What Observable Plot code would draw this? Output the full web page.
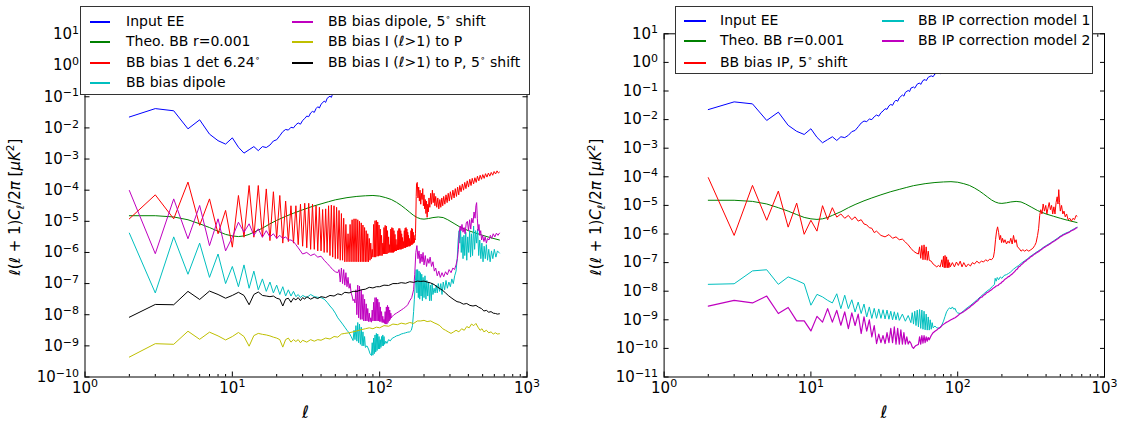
<!DOCTYPE html>
<html><head><meta charset="utf-8">
<script src="https://cdn.jsdelivr.net/npm/d3@7"></script>
<script src="https://cdn.jsdelivr.net/npm/@observablehq/plot@0.6"></script>
<style>
body{margin:0;background:#fff;}
#wrap{position:relative;width:1121px;height:424px;overflow:hidden;font-family:"DejaVu Sans",sans-serif;background:#fff;}
.panel{position:absolute;top:0;}
.legend{position:absolute;background:#fff;border:1px solid #333;box-sizing:border-box;color:#000;font-size:14px;}
.item{position:absolute;white-space:nowrap;height:18px;line-height:18px;}
.sw{position:absolute;height:1.5px;}
.legend i{font-style:italic;}
.legend sup{font-size:9px;vertical-align:6px;line-height:0;}
</style></head><body><div id="wrap"></div>
<script>
// ---------------- axis ticks ----------------
const xMajor = [1, 10, 100, 1000];
const xMinor = [2,3,4,5,6,7,8,9,20,30,40,50,60,70,80,90,200,300,400,500,600,700,800,900];
const yExpLeft = [-10,-9,-8,-7,-6,-5,-4,-3,-2,-1,0,1];
const yExpRight = [-11,-10,-9,-8,-7,-6,-5,-4,-3,-2,-1,0,1];

// ---------------- data: log10 of l(l+1)C_l/2pi [muK^2] ----------------
// "Run" arrays hold consecutive multipoles starting at l = 2; "Pts" arrays hold [l, log10 value].
const eeRun = [-1.65,-1.38,-1.45,-2.03,-1.74,-2.2,-2.41,-2.52,-2.32,-2.62,-2.81,-2.7,-2.6,-2.73,-2.6,-2.63,-2.55,-2.42,-2.38,-2.25,-2.12,-2.05,-2.07,-1.98,-2.0,-1.9,-1.84,-1.88,-1.76,-1.7,-1.62,-1.64,-1.52,-1.47,-1.5,-1.38,-1.32,-1.36,-1.24];
const eePts = [[42,-1.14],[43,-1.18],[44,-1.05],[46,-0.98],[47,-1.02],[48,-0.9],[50,-0.86],[51,-0.9],[53,-0.76],[55,-0.72],[56,-0.77],[58,-0.63],[60,-0.6],[61,-0.64],[63,-0.52],[66,-0.47],[68,-0.5],[70,-0.4],[74,-0.36],[76,-0.4],[80,-0.28],[85,-0.22],[90,-0.15],[100,-0.05],[120,0.1]];

const theoPts = [[2,-4.82],[3,-4.82],[4,-4.86],[5,-4.95],[6,-5.08],[7,-5.2],[8,-5.32],[9,-5.42],[10,-5.47],[11,-5.49],[12,-5.47],[13,-5.42],[14,-5.35],[16,-5.22],[18,-5.08],[20,-4.97],[23,-4.84],[26,-4.74],[30,-4.63],[35,-4.52],[40,-4.44],[45,-4.37],[50,-4.31],[60,-4.24],[70,-4.2],[80,-4.18],[90,-4.17],[100,-4.19],[110,-4.24],[120,-4.3],[130,-4.39],[140,-4.49],[150,-4.6],[160,-4.71],[170,-4.81],[180,-4.88],[190,-4.92],[200,-4.93],[215,-4.91],[230,-4.88],[250,-4.86],[270,-4.88],[290,-4.95],[320,-5.07],[350,-5.18],[400,-5.3],[450,-5.38],[500,-5.45],[560,-5.52],[650,-5.6]];

// left panel
const redLRun = [
 -4.92,-4.15,-4.92,-3.74,-5.13,-4.28,-5.4,-4.65,-5.83,-4.17,-5.51,-3.85,-5.51,-3.85,-5.51,-3.96,-5.62,-4.05,-5.55,-4.17,-5.7,-4.35,
 -5.65,-4.5,-5.7,-4.5,-5.75,-4.45,-5.8,-4.42,-5.85,-4.42,-5.9,-4.45,-5.9,-4.5,-5.95,-4.55,-5.95,-4.62,-6.0,
 -4.6,-6.0,-4.5,-6.1,-4.48,-6.15,-4.5,-6.2,-4.55,-6.2,-4.65,-6.25,-4.75,-6.25,-4.9,-6.3,-5.1,-6.3,-5.4,-6.3,
 -5.1,-6.3,-4.95,-6.3,-4.92,-6.3,-4.92,-6.3,-4.95,-6.3,-5.0,-6.3,-5.05,-6.3,-5.12,-6.3,-5.2,-6.3,-5.3,-6.3,-5.4,-6.3,-5.55,-6.25,-5.7,-6.2,-5.9,
 -6.15,-5.1,-6.15,-4.98,-6.15,-4.97,-6.12,-5.02,-6.12,-5.12,-6.1,-5.25,-6.1,-5.45,-6.1,-5.7,
 -6.05,-5.2,-6.05,-5.13,-6.05,-5.15,-6.05,-5.3,-6.02,-5.5,-6.0,-5.75,
 -6.0,-5.25,-6.0,-5.2,-6.0,-5.22,-6.0,-5.3,-5.97,-5.42,-5.95,-5.58,-5.95,-5.75,
 -5.92,-5.3,-5.92,-5.23,-5.9,-5.23,-5.9,-5.3,-5.9,-5.4,-5.88,-5.52,-5.88,-5.65,-5.85,
 -5.3,-5.85,-5.22,-5.85,-5.2,-5.82,-5.25,-5.82,-5.35,-5.8,-5.45,-5.8,-5.55,-5.8,-5.65,
 -5.78,-5.3,-5.75,-5.22,-5.75,-5.25,-5.72,-5.35,-5.7,-5.45,-5.68,-5.55,-5.6,-5.4,-4.9,-4.2,-3.8];
const redLPts = [[180,-3.75],[182,-4.25],[184,-3.9],[186,-4.35],[188,-4.0],[190,-4.45],[192,-4.1],[194,-4.3],[196,-3.95],[198,-4.5],[200,-4.15],[202,-4.6],[204,-4.3],[206,-4.75],[208,-4.35],[210,-4.87],[212,-4.45],[214,-4.7],[216,-4.25],[219,-4.55],[222,-4.1],[225,-4.45],[228,-4.0],[231,-4.4],[234,-4.1],[237,-4.5],[240,-4.2],[244,-4.55],[248,-4.25],[252,-4.6],[256,-4.3],[260,-4.55],[264,-4.25],[268,-4.5],[272,-4.2],[277,-4.45],[282,-4.15],[287,-4.4],[292,-4.1],[297,-4.35],[302,-4.05],[308,-4.3],[314,-4.0],[320,-4.25],[326,-3.95],[332,-4.2],[338,-3.9],[344,-4.15],[350,-3.85],[357,-4.05],[364,-3.8],[371,-4.0],[378,-3.75],[385,-3.95],[393,-3.7],[401,-3.9],[409,-3.65],[417,-3.85],[425,-3.62],[434,-3.8],[443,-3.6],[452,-3.75],[461,-3.55],[471,-3.7],[481,-3.52],[491,-3.65],[501,-3.5],[512,-3.62],[523,-3.47],[535,-3.58],[547,-3.45],[559,-3.55],[572,-3.43],[585,-3.52],[598,-3.4],[612,-3.48],[626,-3.38],[640,-3.45],[650,-3.42]];

const cyanLRun = [-5.38,-7.3,-5.5,-6.7,-5.7,-6.8,-6.05,-7.0,-6.45,-7.1,-6.4,-7.15,-6.6,-7.2,-6.85,-7.25,-6.95,-7.3,-7.05,-7.35,-7.1,-7.4,-7.2,-7.4,-7.25,-7.42];
const cyanLPts = [[28,-7.35],[29,-7.45],[30,-7.38],[32,-7.45],[34,-7.35],[36,-7.42],[38,-7.44],[40,-7.45],[42,-7.5],[44,-7.6],[46,-7.72],[48,-7.82],[50,-7.95],[52,-8.1],[54,-8.2],[56,-8.3],[58,-8.4],[60,-8.5],[62,-8.58],[64,-8.7],[66,-8.83],
 [67,-8.5],[68,-8.8],[69,-8.35],[70,-8.85],[71,-8.25],[72,-8.9],[73,-8.3],[74,-8.95],[75,-8.4],[76,-9.0],[77,-8.55],[78,-9.0],[79,-8.7],[80,-9.05],[82,-9.0],[84,-9.1],[86,-9.25],[88,-9.31],
 [89,-8.9],[90,-9.3],[91,-8.75],[92,-9.25],[93,-8.65],[94,-9.2],[95,-8.6],[96,-9.15],[97,-8.62],[98,-9.1],[99,-8.7],[100,-9.1],[101,-8.8],[102,-9.05],[103,-8.7],[104,-9.0],[105,-8.65],[106,-9.0],[107,-8.7],[108,-8.95],[110,-8.85],[112,-8.92],[115,-8.8],[118,-8.84],[122,-8.75],[126,-8.72],[130,-8.68],[135,-8.66],[140,-8.62],[145,-8.6],[150,-8.58],[155,-8.56],[160,-8.55],[164,-8.5],[167,-8.35],[170,-7.9],[172,-7.5],[175,-6.9],[177,-6.55],
 [179,-7.3],[181,-6.55],[183,-7.45],[185,-6.6],[187,-7.5],[189,-6.65],[191,-7.4],[193,-6.7],[195,-7.55],[197,-6.8],[200,-7.45],[203,-6.75],[206,-7.5],[209,-6.9],[212,-7.4],[215,-6.95],[218,-7.55],[221,-7.05],[224,-7.55],[227,-7.0],[230,-7.35],[234,-7.15],[238,-7.3],[242,-7.05],[246,-7.3],[250,-7.0],[255,-7.25],[260,-7.0],[265,-7.35],[270,-6.95],[276,-7.2],[282,-6.9],[288,-7.15],[295,-6.95],[302,-7.1],[309,-6.85],[316,-7.0],[323,-6.75],[330,-6.6],[336,-6.2],[341,-5.6],[346,-5.3],[350,-5.7],[354,-5.25],[358,-6.0],[363,-5.5],[368,-6.2],[373,-5.45],[378,-6.1],[384,-5.35],[390,-6.25],[396,-5.5],[402,-6.0],[408,-5.3],[414,-6.15],[420,-5.4],[427,-6.1],[434,-5.15],[441,-5.9],[448,-5.3],[455,-5.7],[462,-5.25],[470,-6.1],[478,-5.6],[486,-6.2],[494,-5.7],[503,-6.3],[512,-5.8],[521,-6.2],[530,-5.75],[540,-6.25],[550,-5.9],[562,-6.3],[574,-5.95],[586,-6.2],[600,-5.9],[615,-6.15],[630,-5.95],[650,-6.02]];

const magLRun = [-4.01,-6.04,-4.28,-5.56,-4.49,-5.78,-4.92,-5.95,-5.51,-5.03,-5.35,-5.08,-5.45,-5.24,-5.51,-5.3,-5.5,-5.4,-5.55,-5.45,-5.55,-5.5,-5.6,-5.6,-5.65,-5.75];
const magLPts = [[28,-5.85],[30,-6.05],[32,-6.0],[34,-6.1],[36,-6.05],[38,-6.15],[40,-6.12],[42,-6.25],[44,-6.35],[46,-6.45],[48,-6.55],[50,-6.62],[52,-6.65],
 [53,-6.55],[54,-6.95],[55,-6.5],[56,-7.0],[57,-6.55],[58,-7.05],[59,-6.65],[60,-7.1],[61,-6.8],[62,-7.15],[63,-7.0],[64,-7.3],[65,-7.4],[66,-7.55],[67,-7.5],[68,-7.62],
 [69,-7.2],[70,-8.0],[71,-7.05],[72,-8.1],[73,-7.08],[74,-8.15],[75,-7.2],[76,-8.15],[77,-7.35],[78,-8.2],[79,-7.5],[80,-8.2],[81,-7.65],[82,-8.2],[83,-7.8],[84,-8.22],[85,-7.95],[86,-8.22],[87,-8.1],[88,-8.24],
 [89,-7.85],[90,-8.2],[91,-7.6],[92,-8.2],[93,-7.45],[94,-8.2],[95,-7.45],[96,-8.2],[97,-7.5],[98,-8.2],[99,-7.6],[100,-8.22],[101,-7.75],[102,-8.22],[103,-7.9],[104,-8.25],[105,-8.05],[106,-8.25],[107,-8.15],[108,-8.28],
 [109,-7.9],[110,-8.3],[111,-7.75],[112,-8.3],[113,-7.7],[114,-8.25],[115,-7.75],[116,-8.2],[117,-7.85],[118,-8.15],[119,-7.95],[120,-8.1],[122,-8.05],[125,-8.0],[130,-7.95],[135,-7.9],[140,-7.85],[145,-7.8],[150,-7.75],[155,-7.68],[160,-7.55],[165,-7.45],[170,-7.2],[173,-6.7],[176,-6.0],[179,-5.78],
 [182,-6.2],[185,-5.95],[188,-6.35],[191,-6.05],[194,-6.3],[197,-6.0],[200,-6.4],[204,-6.1],[208,-6.45],[212,-6.2],[216,-6.35],[220,-6.15],[225,-6.45],[230,-6.3],[235,-6.6],[240,-6.5],[246,-6.75],[252,-6.6],[258,-6.8],[265,-6.65],[272,-6.78],[280,-6.62],[288,-6.72],[296,-6.55],[305,-6.65],[314,-6.5],[322,-6.55],[330,-6.4],[337,-6.2],[342,-5.9],[347,-5.35],[352,-5.15],[357,-5.3],[362,-5.1],[368,-5.35],[374,-5.2],[380,-5.4],[387,-5.05],[394,-5.0],[401,-5.3],[408,-4.95],[415,-5.25],[422,-4.9],[430,-5.05],[437,-4.7],[444,-4.9],[450,-4.5],[455,-4.4],[460,-4.9],[466,-5.3],[472,-5.1],[478,-5.45],[485,-5.3],[492,-5.6],[500,-5.45],[510,-5.65],[520,-5.5],[530,-5.7],[540,-5.55],[552,-5.6],[564,-5.45],[576,-5.55],[590,-5.4],[605,-5.5],[620,-5.38],[635,-5.45],[650,-5.38]];

const yelLRun = [-9.36,-8.93,-8.95,-8.53,-8.79,-8.56,-8.68,-8.81,-8.7,-8.57,-8.7,-9.01,-8.67,-8.6,-8.63,-8.65,-8.68,-8.72,-8.75,-8.8,-9.04,-8.8,-8.75,-8.88,-8.8,-8.86];
const yelLPts = [[28,-8.8],[29,-8.9],[30,-8.82],[32,-8.88],[34,-8.8],[36,-8.85],[38,-8.8],[40,-8.82],[43,-8.75],[46,-8.78],[49,-8.7],[52,-8.72],[55,-8.62],[58,-8.6],[62,-8.58],[66,-8.55],[70,-8.52],[75,-8.48],[80,-8.45],[85,-8.42],[90,-8.45],[95,-8.4],[100,-8.42],[107,-8.35],[115,-8.37],[123,-8.3],[132,-8.32],[140,-8.27],[150,-8.3],[160,-8.25],[170,-8.28],[180,-8.2],[190,-8.2],[200,-8.18],[210,-8.22],[222,-8.2],[234,-8.26],[245,-8.3],[256,-8.35],[268,-8.45],[280,-8.5],[292,-8.55],[305,-8.6],[318,-8.55],[330,-8.5],[345,-8.55],[360,-8.45],[375,-8.5],[390,-8.38],[405,-8.42],[420,-8.3],[435,-8.35],[450,-8.28],[465,-8.4],[480,-8.5],[495,-8.45],[510,-8.55],[530,-8.5],[550,-8.58],[570,-8.55],[590,-8.62],[610,-8.58],[630,-8.62],[650,-8.61]];

const blkLRun = [-8.08,-7.67,-7.68,-7.25,-7.51,-7.24,-7.35,-7.47,-7.38,-7.28,-7.38,-7.68,-7.35,-7.27,-7.38,-7.4,-7.42,-7.4,-7.47,-7.5,-7.72,-7.5,-7.47,-7.6,-7.47,-7.52];
const blkLPts = [[28,-7.45],[29,-7.55],[30,-7.45],[31,-7.5],[32,-7.42],[34,-7.5],[36,-7.44],[38,-7.48],[40,-7.42],[43,-7.45],[46,-7.38],[49,-7.4],[52,-7.33],[55,-7.36],[58,-7.28],[62,-7.3],[66,-7.25],[70,-7.25],[75,-7.2],[80,-7.18],[85,-7.12],[90,-7.14],[95,-7.1],[100,-7.1],[107,-7.05],[115,-7.06],[123,-7.0],[132,-7.0],[140,-6.97],[150,-6.99],[160,-6.94],[170,-6.96],[180,-6.92],[190,-6.93],[200,-6.92],[210,-6.95],[222,-6.98],[234,-7.03],[245,-7.1],[256,-7.16],[268,-7.22],[280,-7.3],[292,-7.38],[305,-7.45],[320,-7.52],[335,-7.58],[350,-7.6],[370,-7.66],[390,-7.64],[410,-7.7],[430,-7.72],[450,-7.7],[470,-7.76],[490,-7.8],[510,-7.88],[530,-7.86],[550,-7.92],[570,-7.9],[590,-7.95],[610,-7.96],[630,-7.98],[650,-7.97]];

// right panel
const redRRun = [-4.03,-6.05,-4.3,-5.52,-4.5,-5.76,-4.92,-6.01,-5.52,-5.9,-5.01,-5.5,-5.08,-5.41,-5.3,-5.45,-5.35,-5.5,-5.4,-5.55,-5.5,-5.65,-5.68,-5.78,-5.8,-5.95];
const redRPts = [[28,-5.9],[30,-6.05],[32,-6.1],[34,-6.02],[36,-6.15],[38,-6.1],[40,-6.2],[42,-6.18],[44,-6.28],[46,-6.38],[48,-6.5],[50,-6.6],[52,-6.66],[54,-6.7],
 [55,-6.45],[56,-6.85],[57,-6.4],[58,-6.9],[59,-6.38],[60,-6.9],[61,-6.45],[62,-6.92],[63,-6.6],[64,-6.92],[66,-6.95],[68,-7.05],[70,-7.1],[72,-7.15],[74,-7.1],[76,-7.15],
 [78,-6.9],[79,-7.15],[80,-6.78],[81,-7.18],[82,-6.75],[83,-7.18],[84,-6.8],[85,-7.18],[86,-6.9],[87,-7.18],[88,-7.0],[89,-7.15],
 [92,-7.0],[95,-7.15],[98,-6.98],[101,-7.1],[104,-6.95],[107,-7.15],[110,-7.0],[114,-7.15],[118,-7.05],[122,-7.12],[126,-7.0],[130,-7.05],[135,-6.95],[140,-7.02],[145,-6.95],[150,-6.98],[155,-6.9],[160,-6.95],[165,-6.88],[170,-6.9],[175,-6.82],[178,-6.6],[181,-6.2],[184,-5.9],[187,-5.75],[190,-5.95],[193,-6.2],[196,-6.05],[199,-6.3],[202,-6.15],[206,-6.3],[210,-6.2],[215,-6.35],[220,-6.25],[225,-6.32],[230,-6.15],[235,-6.35],[240,-6.05],[245,-6.3],[250,-6.2],[255,-6.45],[262,-6.5],[270,-6.6],[278,-6.55],[286,-6.6],[295,-6.55],[305,-6.6],[315,-6.55],[325,-6.5],[335,-6.4],[342,-6.3],[350,-6.05],[356,-5.8],[362,-5.35],[368,-5.15],[375,-5.3],[382,-4.95],[390,-5.2],[398,-5.0],[405,-5.3],[412,-5.1],[420,-4.9],[428,-5.15],[436,-5.0],[444,-5.3],[452,-5.05],[460,-5.3],[468,-4.9],[476,-4.7],[482,-4.95],[488,-4.45],[494,-4.9],[500,-5.2],[510,-5.0],[520,-5.3],[530,-5.2],[540,-5.4],[552,-5.3],[565,-5.5],[580,-5.45],[595,-5.55],[610,-5.45],[625,-5.5],[640,-5.35],[650,-5.38]];

const cyanRRun = [-7.76,-7.74,-7.29,-7.25,-7.76,-7.5,-7.62,-7.74,-8.49,-8.11,-8.2,-8.32,-8.41,-8.09,-8.61,-8.14,-8.61,-8.3,-8.73,-8.38,-8.78,-8.45,-8.9,-8.55,-8.95,-8.6];
const cyanRPts = [[28,-8.95],[29,-8.62],[30,-8.95],[31,-8.65],[32,-8.97],[33,-8.66],[34,-8.98],[35,-8.7],[36,-9.0],[37,-8.72],[38,-9.0],[39,-8.75],[40,-9.02],[42,-8.8],[44,-9.05],[46,-8.85],[48,-9.1],
 [49,-8.75],[50,-9.15],[51,-8.7],[52,-9.2],[53,-8.66],[54,-9.25],[55,-8.64],[56,-9.3],[57,-8.66],[58,-9.33],[59,-8.7],[60,-9.35],[61,-8.8],[62,-9.36],[63,-8.9],[64,-9.36],[65,-9.0],[66,-9.33],[67,-9.1],[68,-9.28],[70,-9.22],[72,-9.28],[75,-9.3],[78,-9.18],[80,-9.05],[82,-8.88],[84,-8.72],[86,-8.64],[88,-8.58],[90,-8.62],[92,-8.55],[94,-8.63],[96,-8.6],[98,-8.72],[100,-8.76],[104,-8.78],[110,-8.68],[116,-8.58],[122,-8.5],[130,-8.38],[137,-8.28],[143,-8.19],[150,-8.1],[158,-8.0],[165,-7.93],[172,-7.84],[178,-7.76],[180,-7.55],[183,-7.65],[186,-7.52],[190,-7.6],[195,-7.5],[200,-7.55],[207,-7.45],[215,-7.42],[222,-7.38],[229,-7.33],[240,-7.23],[250,-7.16],[260,-7.1],[270,-7.03],[285,-6.94],[300,-6.86],[313,-6.78],[330,-6.7],[345,-6.63],[365,-6.55],[385,-6.46],[405,-6.39],[427,-6.32],[450,-6.24],[475,-6.16],[498,-6.08],[525,-6.01],[550,-5.96],[575,-5.92],[600,-5.86],[625,-5.81],[650,-5.76]];

const magRRun = [-8.52,-8.32,-8.41,-8.17,-8.78,-8.57,-9.04,-9.04,-9.39,-8.88,-9.08,-8.61,-9.08,-8.67,-9.19,-8.72,-9.31,-8.76,-9.2,-8.8,-9.48,-8.9,-9.4,-9.0,-9.6,-9.2];
const magRPts = [[28,-9.83],[29,-9.5],[30,-9.8],[31,-9.55],[32,-9.83],[33,-9.45],[34,-9.8],[35,-9.3],[36,-9.8],[37,-9.25],[38,-9.85],[39,-9.3],[40,-9.85],[41,-9.35],[42,-9.85],[43,-9.45],[44,-9.85],[45,-9.6],[46,-9.85],[47,-9.75],[48,-9.82],[49,-9.95],[50,-10.0],[51,-9.94],[52,-9.9],[53,-9.88],[54,-9.86],
 [55,-9.6],[56,-9.85],[57,-9.55],[58,-9.82],[59,-9.55],[60,-9.8],[61,-9.6],[62,-9.75],[63,-9.62],[64,-9.7],[66,-9.55],[68,-9.45],[70,-9.4],[72,-9.36],[74,-9.3],[76,-9.27],[78,-9.2],[80,-9.16],[83,-9.1],[86,-9.06],[90,-9.0],[93,-8.96],[96,-8.93],[100,-8.86],[103,-8.8],[106,-8.76],[109,-8.73],[112,-8.68],[115,-8.64],[118,-8.6],[121,-8.56],[124,-8.5],[127,-8.47],[130,-8.42],[134,-8.36],[137,-8.33],[140,-8.27],[143,-8.22],[147,-8.2],[150,-8.14],[154,-8.11],[158,-8.05],[162,-8.03],[166,-7.98],[170,-7.95],[174,-7.9],[178,-7.87],[183,-7.82],[188,-7.8],[192,-7.75],[196,-7.73],[200,-7.68],[205,-7.64],[210,-7.58],[215,-7.55],[220,-7.5],[225,-7.48],[229,-7.44],[235,-7.4],[240,-7.35],[245,-7.31],[250,-7.25],[255,-7.22],[260,-7.15],[265,-7.13],[270,-7.08],[278,-7.03],[285,-6.97],[292,-6.94],[300,-6.88],[307,-6.85],[313,-6.8],[322,-6.77],[330,-6.72],[338,-6.69],[345,-6.65],[355,-6.62],[365,-6.57],[375,-6.53],[385,-6.48],[395,-6.45],[405,-6.41],[416,-6.38],[427,-6.34],[438,-6.3],[450,-6.26],[462,-6.23],[475,-6.18],[486,-6.15],[498,-6.1],[512,-6.07],[525,-6.03],[538,-6.01],[550,-5.98],[562,-5.96],[575,-5.94],[588,-5.9],[600,-5.88],[612,-5.86],[625,-5.83],[638,-5.8],[650,-5.78]];

// legend labels and colours
const legendLeftNames = ["Input EE","Theo. BB r=0.001","BB bias 1 det 6.24<sup>∘</sup>","BB bias dipole","BB bias dipole, 5<sup>∘</sup> shift","BB bias I (<i>ℓ</i>&gt;1) to P","BB bias I (<i>ℓ</i>&gt;1) to P, 5<sup>∘</sup> shift"];
const legendLeftColors = ["#0000ff","#008000","#ff0000","#00bfbf","#bf00bf","#bfbf00","#000000"];
const legendRightNames = ["Input EE","Theo. BB r=0.001","BB bias IP, 5<sup>∘</sup> shift","BB IP correction model 1","BB IP correction model 2"];
const legendRightColors = ["#0000ff","#008000","#ff0000","#00bfbf","#bf00bf"];

// ---------------- build ----------------
function rows(run, pts) {
  const out = run.map((g, i) => ({ell: 2 + i, val: 10 ** g}));
  for (const [ell, g] of pts) out.push({ell, val: 10 ** g});
  return out;
}
const H = 424;
const SVGNS = "http://www.w3.org/2000/svg";

function supify(svg) {
  svg.querySelectorAll('g[aria-label$="tick label"] text').forEach(t => {
    const m = /^10\^(-?\d+)$/.exec(t.textContent);
    if (!m) return;
    t.textContent = "10";
    const ts = document.createElementNS(SVGNS, "tspan");
    ts.setAttribute("dy", "-0.47em");
    ts.setAttribute("font-size", "11px");
    ts.textContent = m[1].replace("-", "\u2212");
    t.appendChild(ts);
  });
}

function addLabels(svg, ylx, xlx) {
  const g = d3.select(svg);
  const t = g.append("text")
    .attr("transform", `translate(${ylx},207) rotate(-90)`)
    .attr("text-anchor", "middle").attr("font-size", 15)
    .attr("font-family", "DejaVu Sans").attr("fill", "#000");
  const parts = [["ℓ","i"],["(",""],["ℓ","i"],[" + 1)",""],["C","i"],["ℓ","sub"],["/2",""],["π","i"],[" [",""],["μK","i"],["2","sup"],["]",""]];
  let shift = 0;
  for (const [s, k] of parts) {
    const ts = t.append("tspan").text(s);
    let target = 0;
    if (k === "i") ts.attr("font-style", "italic");
    if (k === "sub") { ts.attr("font-style", "italic").attr("font-size", 10.5); target = 4; }
    if (k === "sup") { ts.attr("font-size", 10.5); target = -6; }
    if (target !== shift) { ts.attr("dy", target - shift); shift = target; }
  }
  g.append("text").attr("x", xlx).attr("y", 418).attr("text-anchor", "middle")
    .attr("font-size", 17).attr("font-style", "italic").attr("font-family", "DejaVu Sans")
    .attr("fill", "#000").text("ℓ");
}

function panel({width, mL, mR, mT, yExp, lines}) {
  const yTicks = yExp.map(e => 10 ** e);
  const fmt = d => "10^" + Math.round(Math.log10(d));
  const none = () => "";
  const svg = Plot.plot({
    width, height: H, marginLeft: mL, marginRight: mR, marginTop: mT, marginBottom: 47.5,
    style: {fontFamily: "DejaVu Sans", fontSize: "15px", background: "transparent", maxWidth: "none", overflow: "visible", color: "#000"},
    x: {type: "log", domain: [1, 1000], label: null},
    y: {type: "log", domain: [yTicks[0], yTicks[yTicks.length - 1]], label: null},
    marks: [
      ...lines.map(s => Plot.line(s.data, {x: "ell", y: "val", stroke: s.color, strokeWidth: s.w || 1})),
      Plot.frame({stroke: "#000", strokeWidth: 1}),
      Plot.axisX(xMajor, {anchor: "bottom", tickSize: -5, tickFormat: none, label: null}),
      Plot.axisX(xMajor, {anchor: "top", tickSize: -5, tickFormat: none, label: null}),
      Plot.axisX(xMinor, {anchor: "bottom", tickSize: -2.5, tickFormat: none, label: null}),
      Plot.axisX(xMinor, {anchor: "top", tickSize: -2.5, tickFormat: none, label: null}),
      Plot.axisY(yTicks, {anchor: "left", tickSize: -5, tickFormat: none, label: null}),
      Plot.axisY(yTicks, {anchor: "right", tickSize: -5, tickFormat: none, label: null}),
      Plot.axisX(xMajor, {anchor: "bottom", tickSize: 0, tickPadding: 5, tickFormat: fmt, label: null}),
      Plot.axisY(yTicks, {anchor: "left", tickSize: 0, tickPadding: 6, tickFormat: fmt, label: null})
    ]
  });
  supify(svg);
  return svg;
}

const wrap = document.getElementById("wrap");

const ee = rows(eeRun, eePts), theo = rows([], theoPts);
const left = panel({
  width: 560, mL: 84.5, mR: 33.5, mT: 34, yExp: yExpLeft,
  lines: [
    {data: ee, color: "#0000ff"}, {data: theo, color: "#008000"},
    {data: rows(redLRun, redLPts), color: "#ff0000"},
    {data: rows(cyanLRun, cyanLPts), color: "#00bfbf"},
    {data: rows(magLRun, magLPts), color: "#bf00bf"},
    {data: rows(yelLRun, yelLPts), color: "#bfbf00"},
    {data: rows(blkLRun, blkLPts), color: "#000000"}
  ]
});
addLabels(left, 20, 305.5);
const right = panel({
  width: 561, mL: 103.6, mR: 17, mT: 33.3, yExp: yExpRight,
  lines: [
    {data: ee, color: "#0000ff"}, {data: theo, color: "#008000"},
    {data: rows(redRRun, redRPts), color: "#ff0000"},
    {data: rows(cyanRRun, cyanRPts), color: "#00bfbf"},
    {data: rows(magRRun, magRPts), color: "#bf00bf", w: 1.2}
  ]
});
addLabels(right, 41, 324);

const dl = document.createElement("div"); dl.className = "panel"; dl.style.left = "0px"; dl.appendChild(left);
const dr = document.createElement("div"); dr.className = "panel"; dr.style.left = "560px"; dr.appendChild(right);
wrap.appendChild(dl); wrap.appendChild(dr);

function legend(box, names, colors, layout) {
  const el = document.createElement("div");
  el.className = "legend";
  Object.assign(el.style, {left: box[0] + "px", top: box[1] + "px", width: box[2] + "px", height: box[3] + "px"});
  names.forEach((n, i) => {
    const [sx, sw, tx, ry] = layout[i];
    const s = document.createElement("div");
    s.className = "sw"; s.style.left = sx + "px"; s.style.width = sw + "px"; s.style.top = ry + "px"; s.style.background = colors[i];
    const t = document.createElement("div");
    t.className = "item"; t.style.left = tx + "px"; t.style.top = (ry - 9) + "px"; t.innerHTML = n;
    el.appendChild(s); el.appendChild(t);
  });
  wrap.appendChild(el);
}
legend([80, 6, 450, 89], legendLeftNames, legendLeftColors,
  [[9,20,45,14],[9,20,45,34],[9,20,45,55],[9,20,45,75],[211,21,247,14],[211,21,247,34],[211,21,247,55]]);
legend([675, 6, 418, 68], legendRightNames, legendRightColors,
  [[8,22,44,13],[8,22,44,33],[8,22,44,55],[206,22,242,13],[206,22,242,33]]);
</script></body></html>
